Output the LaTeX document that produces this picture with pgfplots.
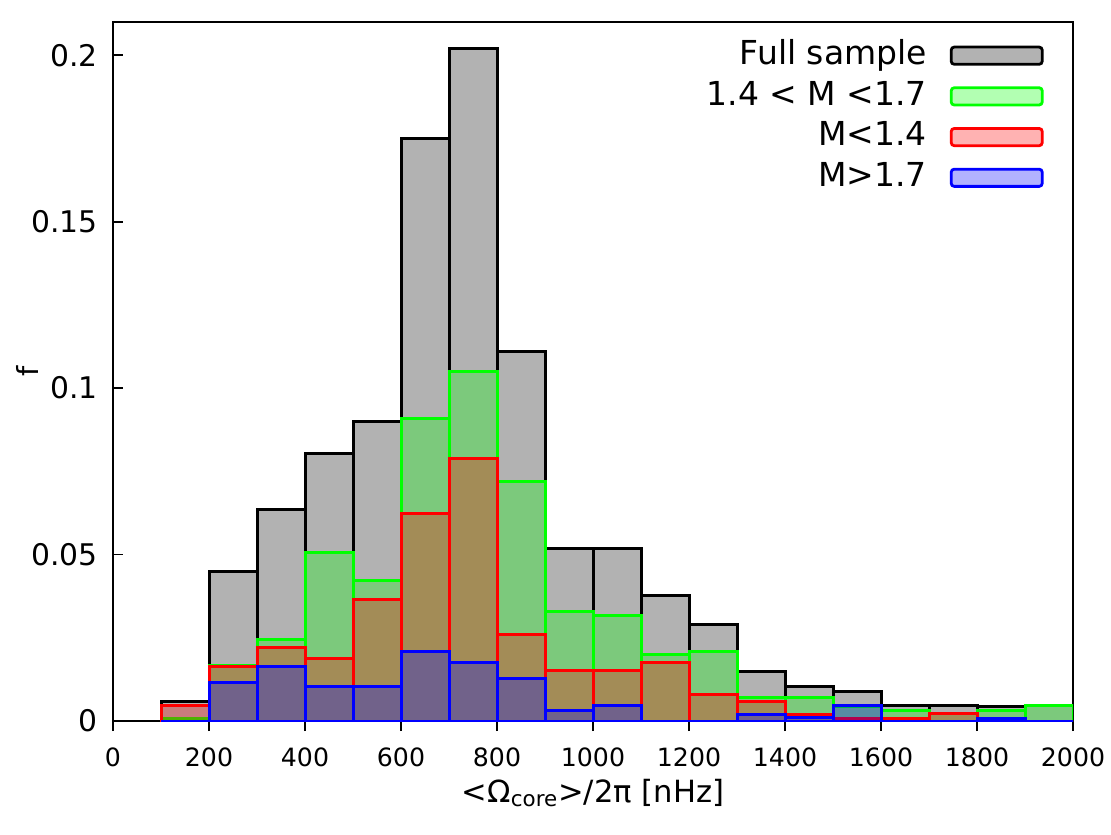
\documentclass[border=0pt]{standalone}
\usepackage{fontspec}
\setmainfont{DejaVu Sans}
\usepackage{pgfplots}
\usepackage{pgfplotstable}
\pgfplotsset{compat=1.18}
\pgfplotstableread{
x full green red blue
150  0.0058 0.0008 0.0046 0.0000
250  0.0448 0.0166 0.0164 0.0117
350  0.0636 0.0246 0.0222 0.0163
450  0.0803 0.0505 0.0189 0.0103
550  0.0900 0.0422 0.0364 0.0103
650  0.1750 0.0909 0.0623 0.0209
750  0.2021 0.1050 0.0789 0.0176
850  0.1109 0.0719 0.0259 0.0129
950  0.0518 0.0330 0.0151 0.0031
1050 0.0518 0.0317 0.0151 0.0046
1150 0.0377 0.0201 0.0176 0.0000
1250 0.0291 0.0209 0.0080 0.0000
1350 0.0149 0.0070 0.0058 0.0021
1450 0.0103 0.0070 0.0021 0.0011
1550 0.0090 0.0045 0.0008 0.0046
1650 0.0046 0.0033 0.0008 0.0000
1750 0.0046 0.0022 0.0022 0.0000
1850 0.0045 0.0033 0.0000 0.0007
1950 0.0046 0.0046 0.0000 0.0000
}\hist
\begin{document}
\begin{tikzpicture}
\useasboundingbox (-56.5pt,-56.5pt) rectangle (499pt,360.5pt);
\begin{axis}[
  at={(0,0)}, anchor=south west,
  scale only axis, width=480pt, height=349.5pt,
  xmin=0, xmax=2000, ymin=0, ymax=0.21,
  xtick={0,200,...,2000},
  ytick={0,0.05,0.1,0.15,0.2},
  yticklabels={0,0.05,0.1,0.15,0.2},
  xtick pos=bottom, ytick pos=left,
  xtick align=outside, ytick align=inside,
  major tick length=5pt,
  axis line style={line width=0.8pt},
  every tick/.style={black, line width=0.8pt},
  /pgf/number format/assume math mode=true,
  /pgf/number format/1000 sep={},
  xticklabel style={font=\fontsize{12.6}{15}\selectfont, inner sep=0pt, anchor=north, yshift=-8pt},
  yticklabel style={font=\fontsize{14.9}{18}\selectfont, inner sep=0pt, anchor=east, xshift=-7.5pt},
  xlabel={<Ω\textsubscript{core}>/2π [nHz]},
  ylabel={f},
  xlabel style={font=\fontsize{15.3}{18}\selectfont, at={(axis description cs:0.5,-0.083)}, anchor=north, inner sep=0pt},
  ylabel style={font=\fontsize{14.5}{16}\selectfont, at={(axis description cs:-0.0896,0.5)}, anchor=center, inner sep=0pt},
  legend plot pos=right,
  legend cell align=right,
  legend style={at={(axis description cs:0.9698,0.980)}, anchor=north east, draw=none, fill=none,
    inner sep=0pt, row sep=1.05pt, column sep=9.5pt,
    font=\fontsize{16.5}{19}\selectfont,
    nodes={text height=12pt, text depth=3.3pt, inner sep=2pt}},
  hist/.style={ybar, bar width=100, bar shift=0pt, fill opacity=0.3, draw opacity=1, line width=1.5pt,
    legend image code/.code={\draw[##1, fill opacity=0.3, line width=1.4pt, rounded corners=1.5pt] (0pt,-4.3pt) rectangle (45.5pt,4.3pt);}},
]
\addplot[hist, draw=black, fill=black] table[x=x, y=full] {\hist};
\addlegendentry{Full sample}
\addplot[hist, draw=green, fill=green] table[x=x, y=green] {\hist};
\addlegendentry{1.4 < M <1.7}
\addplot[hist, draw=red, fill=red] table[x=x, y=red] {\hist};
\addlegendentry{M<1.4}
\addplot[hist, draw=blue, fill=blue] table[x=x, y=blue] {\hist};
\addlegendentry{M>1.7}
\end{axis}
\end{tikzpicture}
\end{document}
